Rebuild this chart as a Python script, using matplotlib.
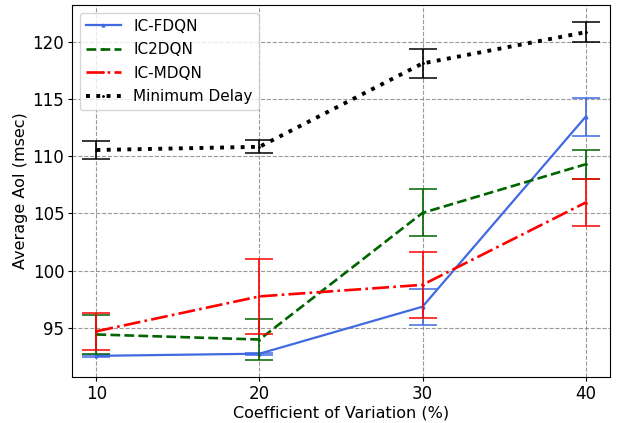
import numpy as np
import matplotlib
matplotlib.use('Agg')
import matplotlib.pyplot as plt

cv = [10, 20, 30, 40]

fdqn = [92.55, 92.74, 96.85, 113.45]
fdqn_err = [0.1, 0.1, 1.57, 1.65]

c2dqn = [94.42, 93.98, 105.05, 109.3]
c2dqn_err = [1.74, 1.8, 2.05, 1.25]

mdqn = [94.7, 97.75, 98.76, 105.95]
mdqn_err = [1.63, 3.25, 2.9, 2.07]

min_delay = [110.55, 110.83, 118.12, 120.85]
min_delay_err = [0.8, 0.57, 1.3, 0.9]

series = [
    (fdqn, fdqn_err, 'royalblue', '-', 1.6, '^', 'IC-FDQN'),
    (c2dqn, c2dqn_err, 'darkgreen', '--', 1.9, '.', 'IC2DQN'),
    (mdqn, mdqn_err, 'red', '-.', 1.9, '.', 'IC-MDQN'),
    (min_delay, min_delay_err, 'black', ':', 2.8, '.', 'Minimum Delay'),
]

fig = plt.figure(figsize=(6.18, 4.23), dpi=100)
ax = fig.add_axes([72/618, 1-377/423, 538/618, 372/423])

for y, e, c, ls, lw, m, lab in series:
    ax.plot(cv, y, color=c, ls=ls, lw=lw, marker=m, ms=2, label=lab)
    ax.errorbar(cv, y, yerr=e, fmt='none', ecolor=c, elinewidth=1.2,
                capsize=10, capthick=1.1)

ax.set_xticks(cv)
ax.set_yticks([95, 100, 105, 110, 115, 120])
ax.tick_params(labelsize=12, length=3, pad=2.5)
ax.set_xlabel('Coefficient of Variation (%)', fontsize=11.5, labelpad=2)
ax.set_ylabel('Average AoI (msec)', fontsize=11.5, labelpad=3)
ax.grid(True, ls='--', color='gray', alpha=0.8)
ax.legend(loc='upper left', fontsize=11, handlelength=2.3, labelspacing=0.55)

fig.savefig('out.png', dpi=100)
